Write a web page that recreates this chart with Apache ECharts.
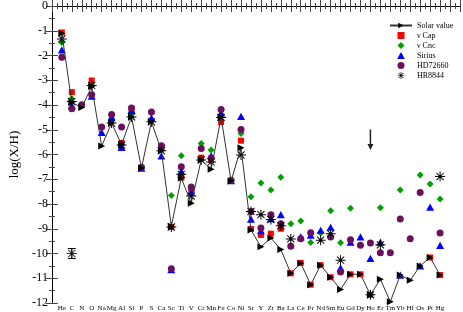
<!DOCTYPE html>
<html>
<head>
<meta charset="utf-8">
<script src="https://cdn.jsdelivr.net/npm/echarts@6/dist/echarts.min.js"></script>
<style>
html, body { margin: 0; padding: 0; background: #fff; }
#chart { width: 463px; height: 312px; }
</style>
</head>
<body>
<div id="chart"></div>
<script>
// element names along the x axis (positions 1..39)
const elements = ['He','C','N','O','Na','Mg','Al','Si','P','S','Ca','Sc','Ti','V','Cr','Mn','Fe','Co','Ni','Sr',
  'Y','Zr','Ba','La','Ce','Pr','Nd','Sm','Eu','Gd','Dy','Ho','Er','Tm','Yb','Hf','Os','Pt','Hg'];

// log(X/H) per element, null = no measurement
const solar = [-1.1,-3.9,-4.1,-3.25,-5.66,-4.73,-5.6,-4.48,-6.55,-4.68,-5.85,-8.9,-6.95,-7.97,-6.22,-6.6,-4.5,-7.07,-5.73,-9.05,
  -9.73,-9.37,-9.84,-10.8,-10.39,-11.26,-10.47,-10.96,-11.45,-10.84,-10.84,-11.67,-11.04,-11.95,-10.87,-11.08,-10.5,-10.16,-10.87];
const nuCap = [-1.07,-3.48,null,-3.01,null,null,-5.53,-4.18,null,null,-5.7,-8.93,-6.94,-7.43,-6.13,-6.22,-4.69,null,-5.44,-9.01,
  -9.25,-9.2,-9.0,-10.8,-10.38,-11.26,-10.47,-10.96,null,-10.84,-10.84,-11.67,null,null,null,null,null,-10.16,-10.87];
const nuCnc = [-1.47,-3.75,null,-3.2,null,-4.55,null,-4.3,null,null,-5.8,-7.66,-6.05,null,-5.56,-5.82,-4.42,null,-5.15,-7.71,
  -7.15,-7.43,-6.92,-8.8,-8.69,-9.56,-9.17,-8.27,-9.57,-8.17,null,null,-8.15,null,-7.43,null,-6.83,-7.19,-7.8];
const sirius = [-1.77,-4.02,null,-3.64,-5.11,-4.51,-5.71,-4.22,-6.55,-4.52,-6.06,-10.65,-6.68,-7.52,null,-6.05,-4.32,-7.06,-4.46,-8.61,
  -9.08,-8.59,-8.43,null,-9.33,-9.26,-9.06,-8.94,-10.58,-9.54,-9.33,-10.2,-9.54,null,-10.87,null,-10.5,-8.13,-9.67];
const hd72660 = [-2.07,-4.15,-3.99,-3.59,-4.89,-4.38,-4.89,-4.12,-6.52,-4.28,-5.65,-10.62,-6.49,-7.31,-5.76,-6.14,-4.18,-7.04,-4.99,-8.3,
  -8.97,-8.43,-8.8,-9.71,-9.4,-9.16,null,-9.33,-10.75,-9.44,-9.67,-9.58,-9.97,-9.97,-8.61,-9.4,-7.54,null,-9.17];
const hr8844 = [-1.33,-3.86,null,-3.21,null,-4.73,-5.62,-4.48,null,-4.68,-5.85,-8.93,-6.8,-7.68,-6.22,-6.3,-4.5,null,-6.02,-8.3,
  -8.43,-8.63,-8.88,-9.41,null,null,-9.46,-9.2,-10.27,null,null,-11.67,-9.65,null,null,null,null,null,-6.89];

// typical error bar sample [x, y, err] and upper-limit arrow at Ho [x, yTop, yBottom]
const errSample = [[2, -10, 0.2]];
const upperLimit = [[32, -4.99, -5.82]];

const FONT = 'Liberation Serif, Times New Roman, serif';
const asterisk = 'path://M0 9L20 9L20 11L0 11Z M9 0L11 0L11 20L9 20Z M2.2 3.6L3.6 2.2L17.8 16.4L16.4 17.8Z M16.4 2.2L17.8 3.6L3.6 17.8L2.2 16.4Z M7 7L13 7L13 13L7 13Z';
const arrowRight = 'path://M0 0L10 5L0 10Z';
const square = 'path://M0 0L10 0L10 10L0 10Z';
const diamond = 'path://M5 0L10 5L5 10L0 5Z';
const triangle = 'path://M5 0L10 9L0 9Z';

function pts(vals) {
  return vals.map((v, i) => v == null ? null : [i + 1, v]).filter(Boolean);
}

function scatter(name, vals, symbol, size, color) {
  return { name, type: 'scatter', data: pts(vals), symbol, symbolSize: size, symbolKeepAspect: true,
    itemStyle: { color, opacity: 1 }, emphasis: { disabled: true } };
}

const tickX = { show: true, inside: true, length: 6, lineStyle: { color: '#444' } };
const minorX = { show: true, splitNumber: 2, length: 3, lineStyle: { color: '#444' } };

const chart = echarts.init(document.getElementById('chart'));
chart.setOption({
  animation: false,
  grid: { left: 36, right: 1, top: 5, bottom: 8 },
  legend: {
    orient: 'vertical', left: 384, top: 16, itemWidth: 22, itemHeight: 7, itemGap: 1,
    symbolKeepAspect: true,
    textStyle: { fontFamily: FONT, fontSize: 8, color: '#000', lineHeight: 9 },
    data: ['Solar value', 'ν Cap', 'ν Cnc', 'Sirius', 'HD72660', 'HR8844']
  },
  xAxis: [{
    type: 'value', min: 0, max: 41, interval: 1,
    axisLine: { lineStyle: { color: '#000' } },
    axisTick: tickX, minorTick: minorX, splitLine: { show: false },
    axisLabel: { margin: 2, fontFamily: FONT, fontSize: 7, color: '#000',
      formatter: v => elements[v - 1] || '' }
  }, {
    type: 'value', min: 0, max: 41, interval: 1, position: 'top',
    axisLine: { lineStyle: { color: '#000' } },
    axisTick: tickX, minorTick: minorX, splitLine: { show: false }, axisLabel: { show: false }
  }],
  yAxis: [{
    type: 'value', min: -12, max: 0, interval: 1,
    name: 'log(X/H)', nameLocation: 'middle', nameGap: 24,
    nameTextStyle: { fontFamily: FONT, fontSize: 13, color: '#000' },
    axisLine: { show: true, lineStyle: { color: '#000' } },
    axisTick: tickX, minorTick: minorX, splitLine: { show: false },
    axisLabel: { margin: 4, fontFamily: FONT, fontSize: 12, color: '#000' }
  }, {
    type: 'value', min: -12, max: 0, interval: 1, position: 'right',
    axisLine: { show: true, lineStyle: { color: '#000' } },
    axisTick: tickX, minorTick: minorX, splitLine: { show: false }, axisLabel: { show: false }
  }],
  series: [
    { name: 'Solar value', type: 'line', data: pts(solar), symbol: arrowRight, symbolSize: 7,
      itemStyle: { color: '#000' }, lineStyle: { color: '#333', width: 1 }, emphasis: { disabled: true } },
    scatter('ν Cap', nuCap, square, 6, '#ff0000'),
    scatter('ν Cnc', nuCnc, diamond, 7, '#00a000'),
    scatter('Sirius', sirius, triangle, 8, '#0000ff'),
    scatter('HD72660', hd72660, 'circle', 7, '#6b0f5f'),
    scatter('HR8844', hr8844, asterisk, 10, '#000'),
    { name: 'err', type: 'custom', data: errSample,
      renderItem: (params, api) => {
        const x = api.value(0), y = api.value(1), e = api.value(2);
        const t = api.coord([x, y + e]), b = api.coord([x, y - e]);
        const s = { stroke: '#000', lineWidth: 1 };
        return { type: 'group', children: [
          { type: 'line', shape: { x1: t[0], y1: t[1], x2: b[0], y2: b[1] }, style: s },
          { type: 'line', shape: { x1: t[0] - 4, y1: t[1], x2: t[0] + 4, y2: t[1] }, style: s },
          { type: 'line', shape: { x1: b[0] - 4, y1: b[1], x2: b[0] + 4, y2: b[1] }, style: s }
        ] };
      } },
    { name: 'errpt', type: 'scatter', data: errSample.map(d => [d[0], d[1]]), symbol: asterisk, symbolSize: 10,
      itemStyle: { color: '#000' }, emphasis: { disabled: true } },
    { name: 'limit', type: 'custom', data: upperLimit,
      renderItem: (params, api) => {
        const t = api.coord([api.value(0), api.value(1)]);
        const b = api.coord([api.value(0), api.value(2)]);
        return { type: 'group', children: [
          { type: 'line', shape: { x1: t[0], y1: t[1], x2: b[0], y2: b[1] - 4 }, style: { stroke: '#222', lineWidth: 1.5 } },
          { type: 'polygon', shape: { points: [[b[0] - 3, b[1] - 6], [b[0] + 3, b[1] - 6], [b[0], b[1]]] }, style: { fill: '#222' } }
        ] };
      } }
  ]
});
</script>
</body>
</html>
